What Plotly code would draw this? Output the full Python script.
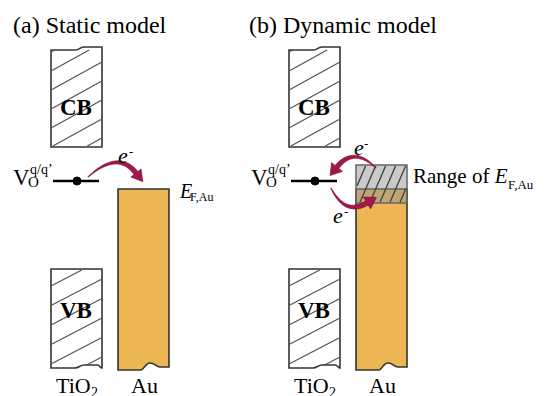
import numpy as np
import plotly.graph_objects as go

# ---- text content ----
panel_titles = ["(a) Static model", "(b) Dynamic model"]
band_labels = ["CB", "VB"]
material_labels = ["TiO", "Au"]
material_subs = ["2", ""]
defect_label = ["V", "O", "q/q’"]
fermi_label = ["<i>E</i>", "F,Au"]
range_label = "Range of <i>E</i>"
electron_label = ["<i>e</i>", "-"]

W, H = 558, 396
OFF = 238  # horizontal offset of panel (b)

FONT = "Liberation Serif, Times New Roman, Times, serif"
EDGE = "#333333"
AU = "#EDB655"
ARROW = "#A0184C"

shapes = []
annotations = []


def txt(x, y, s, size, anchor="left", color="black"):
    annotations.append(dict(x=x, y=y, xref="x", yref="y", text=s, showarrow=False,
                            xanchor=anchor, yanchor="middle",
                            font=dict(family=FONT, size=size, color=color)))


def path(d, fill, line=EDGE, lw=1.6):
    shapes.append(dict(type="path", path=d, xref="x", yref="y", fillcolor=fill,
                       line=dict(color=line, width=lw), layer="above"))


def seg(x0, y0, x1, y1, color="#555555", lw=1.3):
    shapes.append(dict(type="line", x0=x0, y0=y0, x1=x1, y1=y1, xref="x", yref="y",
                       line=dict(color=color, width=lw), layer="above"))


def clip(p, d, rect):
    x0, y0, x1, y1 = rect
    tmin, tmax = -1e9, 1e9
    for a, lo, hi in ((0, x0, x1), (1, y0, y1)):
        if d[a] == 0:
            if not (lo <= p[a] <= hi):
                return None
            continue
        t1 = (lo - p[a]) / d[a]
        t2 = (hi - p[a]) / d[a]
        tmin = max(tmin, min(t1, t2))
        tmax = min(tmax, max(t1, t2))
    if tmin >= tmax:
        return None
    return (p[0] + tmin * d[0], p[1] + tmin * d[1], p[0] + tmax * d[0], p[1] + tmax * d[1])


def hatch(points, d, rect, color="#555555", lw=1.3):
    for p in points:
        s = clip(p, d, rect)
        if s:
            seg(*s, color=color, lw=lw)


def arrow(p0, p1, p2, w0, w1, hl, hw):
    p0, p1, p2 = map(np.array, (p0, p1, p2))
    t = np.linspace(0, 1, 40)[:, None]
    P = (1 - t) ** 2 * p0 + 2 * (1 - t) * t * p1 + t ** 2 * p2
    T = 2 * (1 - t) * (p1 - p0) + 2 * t * (p2 - p1)
    T = T / np.linalg.norm(T, axis=1)[:, None]
    N = np.column_stack([-T[:, 1], T[:, 0]])
    w = (w0 + (w1 - w0) * t[:, 0] ** 0.8)[:, None]
    L = P + N * w / 2
    R = P - N * w / 2
    tip = P[-1] + T[-1] * hl
    hbl = P[-1] + N[-1] * hw / 2
    hbr = P[-1] - N[-1] * hw / 2
    pts = list(L) + [hbl, tip, hbr] + list(R[::-1])
    d = "M " + " L ".join(f"{x:.2f},{y:.2f}" for x, y in pts) + " Z"
    path(d, ARROW, line="#7A0E35", lw=0.6)


for k, dx in enumerate([0, OFF]):
    # CB box
    path(f"M{51+dx},147 L{51+dx},50 L{76+dx},50 C{79+dx},50 {80+dx},47 {84+dx},47 "
         f"L{102+dx},47 L{102+dx},147 Z", "white")
    hatch([(51 + dx, 147 + 19 * i) for i in range(-7, 4)], (1, -0.55),
          (52 + dx, 50, 101 + dx, 146))
    # VB box
    path(f"M{51+dx},269 L{102+dx},269 L{102+dx},368 C{100+dx},368 {100+dx},365 {97+dx},365 "
         f"L{84+dx},365 C{80+dx},365 {79+dx},368 {75+dx},368 L{51+dx},368 Z", "white")
    hatch([(51 + dx, 364 + 19.5 * i) for i in range(-7, 4)], (1, -0.52),
          (52 + dx, 270, 101 + dx, 365))
    # Au bar
    path(f"M{118+dx},189 L{169+dx},189 L{169+dx},367 L{160+dx},367 C{156+dx},367 {155+dx},363 "
         f"{150+dx},363 C{145+dx},363 {144+dx},370 {141+dx},370 L{118+dx},370 Z", AU)
    # defect level
    seg(53 + dx, 181, 99 + dx, 181, color="black", lw=2.5)
    shapes.append(dict(type="circle", x0=73 + dx, y0=177, x1=81 + dx, y1=185, xref="x", yref="y",
                       fillcolor="black", line=dict(color="black", width=1), layer="above"))

    # texts
    txt(11 + dx - (2 if k else 0), 25, panel_titles[k], 24)
    txt(76 + dx, 107, f"<b>{band_labels[0]}</b>", 23, anchor="center")
    txt(76 + dx, 310, f"<b>{band_labels[1]}</b>", 23, anchor="center")
    txt(11 + dx, 177, defect_label[0], 23)
    txt(26 + dx, 182, defect_label[1], 15)
    txt(28 + dx, 169.5, defect_label[2], 14)
    txt(54 + dx, 385, material_labels[0], 22)
    txt(89 + dx, 392, material_subs[0], 14)
    txt(129 + dx, 385, material_labels[1], 22)

# panel (a) Fermi label and arrow
txt(177, 191, fermi_label[0], 20)
txt(188, 197, fermi_label[1], 12)
arrow((88, 177), (118, 150), (136, 173), 0.5, 5, 11, 13)
txt(116, 155, electron_label[0], 22)
txt(127, 151, electron_label[1], 13)

# panel (b) range box
shapes.append(dict(type="rect", x0=356, y0=165, x1=407, y1=203, xref="x", yref="y",
                   fillcolor="rgba(150,150,150,0.5)", line=dict(color="#666666", width=1.5),
                   layer="above"))
hatch([(356 + 10 * i, 165) for i in range(-3, 9)], (-0.43, 1), (357, 166, 406, 202),
      color="#444444", lw=1.4)
txt(411, 176, range_label, 21)
txt(506, 184.5, fermi_label[1], 13)

arrow((376, 168), (354, 146), (337, 167), 0.5, 5, 11, 14)
arrow((331, 188), (345, 216), (367, 203), 0.5, 5, 11, 14)
txt(352, 147, electron_label[0], 22)
txt(362, 143, electron_label[1], 13)
txt(331, 215, electron_label[0], 22)
txt(342, 211, electron_label[1], 13)

fig = go.Figure()
fig.update_layout(
    width=W, height=H,
    margin=dict(l=0, r=0, t=0, b=0),
    paper_bgcolor="white", plot_bgcolor="white",
    xaxis=dict(range=[0, W], visible=False, fixedrange=True),
    yaxis=dict(range=[H, 0], visible=False, fixedrange=True),
    shapes=shapes, annotations=annotations, showlegend=False,
)
fig.write_html("out.html")
